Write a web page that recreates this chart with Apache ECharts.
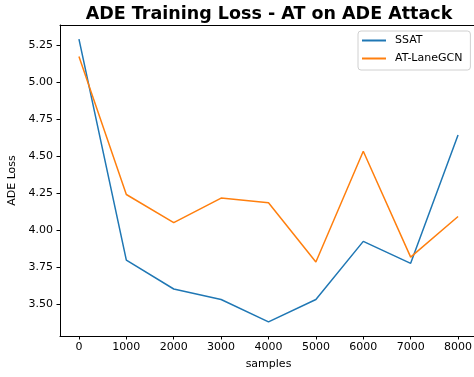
<!DOCTYPE html>
<html>
<head>
<meta charset="utf-8">
<script src="https://cdn.jsdelivr.net/npm/echarts@6/dist/echarts.min.js"></script>
<style>
html,body{margin:0;padding:0;background:#fff;}
#chart{width:474px;height:377px;}
</style>
</head>
<body>
<div id="chart"></div>
<script>
var samples = [0, 1000, 2000, 3000, 4000, 5000, 6000, 7000, 8000];
var ssat = [5.29, 3.80, 3.605, 3.534, 3.383, 3.534, 3.926, 3.778, 4.644];
var atLaneGCN = [5.173, 4.242, 4.052, 4.218, 4.187, 3.787, 4.534, 3.820, 4.094];
var xTicks = [0, 1000, 2000, 3000, 4000, 5000, 6000, 7000, 8000];
var yTicks = [3.50, 3.75, 4.00, 4.25, 4.50, 4.75, 5.00, 5.25];

var font = 'DejaVu Sans';
var chart = echarts.init(document.getElementById('chart'), null, {renderer: 'canvas'});
function pairs(xs, ys) { return xs.map(function (x, i) { return [x, ys[i]]; }); }

chart.setOption({
  backgroundColor: '#fff',
  animation: false,
  title: {
    text: 'ADE Training Loss - AT on ADE Attack',
    left: 264, textAlign: 'center', top: 0,
    textStyle: {fontFamily: font, fontWeight: 'bold', fontSize: 17.5, color: '#000'}
  },
  legend: {
    orient: 'vertical', left: 358, top: 31,
    padding: [4, 8, 6, 4],
    itemWidth: 24, itemHeight: 2, itemGap: 7,
    icon: 'rect',
    borderColor: '#d0d0d0', borderWidth: 1, borderRadius: 3,
    backgroundColor: 'rgba(255,255,255,0.8)',
    textStyle: {fontFamily: font, fontSize: 11, color: '#000', padding: [0, 0, 0, 4]},
    data: ['SSAT', 'AT-LaneGCN']
  },
  grid: {left: 60, width: 417, top: 25, bottom: 41, outerBoundsMode: 'none', containLabel: false, show: false},
  xAxis: [{
    type: 'value', min: -400, max: 8400,
    name: 'samples', nameLocation: 'middle', nameGap: 23,
    nameTextStyle: {fontFamily: font, fontSize: 11, color: '#000'},
    axisLine: {show: true, onZero: false, lineStyle: {color: '#000', width: 1}},
    axisTick: {show: true, length: 3.5, lineStyle: {color: '#000'}, customValues: xTicks},
    axisLabel: {fontFamily: font, fontSize: 11, color: '#000', margin: 6, customValues: xTicks,
      formatter: function (v) { return String(v); }},
    splitLine: {show: false}
  }, {
    type: 'value', position: 'top', min: -400, max: 8400,
    axisLine: {show: true, onZero: false, lineStyle: {color: '#000', width: 1}},
    axisTick: {show: false}, axisLabel: {show: false}, splitLine: {show: false}
  }],
  yAxis: {
    type: 'value', min: 3.288, max: 5.385,
    name: 'ADE Loss', nameLocation: 'middle', nameGap: 38,
    nameTextStyle: {fontFamily: font, fontSize: 11, color: '#000'},
    axisLine: {show: true, onZero: false, lineStyle: {color: '#000', width: 1}},
    axisTick: {show: true, length: 3.5, lineStyle: {color: '#000'}, customValues: yTicks},
    axisLabel: {fontFamily: font, fontSize: 11, color: '#000', margin: 7, customValues: yTicks,
      formatter: function (v) { return v.toFixed(2); }},
    splitLine: {show: false}
  },
  series: [
    {name: 'SSAT', type: 'line', data: pairs(samples, ssat), symbol: 'none', lineStyle: {color: '#1f77b4', width: 1.5}, itemStyle: {color: '#1f77b4'}},
    {name: 'AT-LaneGCN', type: 'line', data: pairs(samples, atLaneGCN), symbol: 'none', lineStyle: {color: '#ff7f0e', width: 1.5}, itemStyle: {color: '#ff7f0e'}}
  ]
});
</script>
</body>
</html>
